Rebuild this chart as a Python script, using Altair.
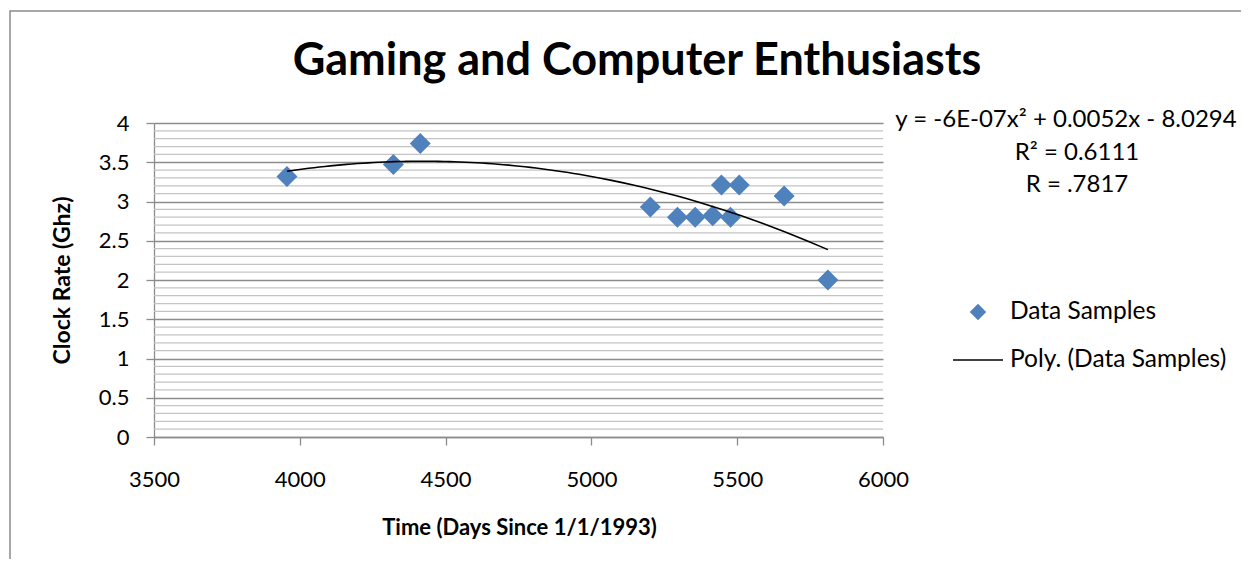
import altair as alt
import pandas as pd

# ---- data ----
days = [3956, 4321, 4413, 5202, 5295, 5356, 5416, 5446, 5477, 5507, 5661, 5811]
clock = [3.32, 3.47, 3.74, 2.93, 2.80, 2.80, 2.82, 3.21, 2.80, 3.21, 3.07, 2.00]

x_ticks = [3500, 4000, 4500, 5000, 5500, 6000]
y_major = [0, 0.5, 1, 1.5, 2, 2.5, 3, 3.5, 4]
y_minor = [round(i / 10, 1) for i in range(1, 40) if i % 5]

title_text = "Gaming and Computer Enthusiasts"
x_title = "Time (Days Since 1/1/1993)"
y_title = "Clock Rate (Ghz)"
eq_lines = ["y = -6E-07x² + 0.0052x - 8.0294", "R² = 0.6111", "R = .7817"]
legend_labels = ["Data Samples", "Poly. (Data Samples)"]

# ---- styling ----
W, H = 729, 314
FONT = "Lato"
GRID_MAJOR = "#8c8c8c"
GRID_MINOR = "#c4c4c4"
BLUE = "#4F81BD"

df = pd.DataFrame({"days": days, "clock": clock})
minor_df = pd.DataFrame({"clock": y_minor})
one = pd.DataFrame({"k": [0]})

xscale = alt.Scale(domain=[3500, 6000], nice=False, zero=False)
yscale = alt.Scale(domain=[0, 4], nice=False)

x_axis = alt.Axis(
    values=x_ticks, format="d", grid=False,
    domainColor=GRID_MAJOR, domainWidth=1.3,
    tickColor=GRID_MAJOR, tickWidth=1.3, tickSize=8,
    labelFont=FONT, labelFontSize=22, labelColor="black", labelPadding=24,
    labelFlush=False, labelOverlap=False,
    title=x_title, titleFont=FONT, titleFontSize=22, titleFontWeight="bold",
    titleColor="black", titleX=365, titleY=90, titleAlign="center",
    titleBaseline="middle",
)
y_axis = alt.Axis(
    values=y_major, format="~g", grid=True,
    gridColor=GRID_MAJOR, gridWidth=1.3,
    domainColor=GRID_MAJOR, domainWidth=1.3,
    tickColor=GRID_MAJOR, tickWidth=1.3, tickSize=8,
    labelFont=FONT, labelFontSize=22, labelColor="black", labelPadding=17,
    labelOverlap=False,
    title=y_title, titleFont=FONT, titleFontSize=23, titleFontWeight="bold",
    titleColor="black", titleX=-92, titleY=157, titleAngle=270,
    titleAlign="center", titleBaseline="middle",
)

X = alt.X("days:Q", scale=xscale, axis=x_axis)
Y = alt.Y("clock:Q", scale=yscale, axis=y_axis)

border = alt.Chart(one).mark_rect(
    fillOpacity=0, stroke="#8a8a8a", strokeWidth=1.5
).encode(x=alt.value(-144), y=alt.value(-112), x2=alt.value(1300), y2=alt.value(700))

minor = alt.Chart(minor_df).mark_rule(color=GRID_MINOR, strokeWidth=1.2).encode(y=Y)

points = alt.Chart(df).mark_point(
    shape="diamond", filled=True, size=441, color=BLUE, opacity=1
).encode(x=X, y=Y)

trend = alt.Chart(df).transform_regression(
    "days", "clock", method="poly", order=2
).mark_line(color="black", strokeWidth=1.6).encode(x=X, y=Y)

title = alt.Chart(one).mark_text(
    font=FONT, fontSize=45, fontWeight="bold", align="center", baseline="alphabetic", color="black"
).encode(x=alt.value(483), y=alt.value(-48), text=alt.value(title_text))

eq_x = [912, 923, 923]
eq_y = [-3, 30, 62]
eq_layers = [
    alt.Chart(one).mark_text(
        font=FONT, fontSize=24, align="center", baseline="middle", color="black"
    ).encode(x=alt.value(ex), y=alt.value(ey), text=alt.value(t))
    for t, ex, ey in zip(eq_lines, eq_x, eq_y)
]

leg_sym = alt.Chart(one).mark_point(
    shape="diamond", filled=True, size=270, color=BLUE, opacity=1
).encode(x=alt.value(824), y=alt.value(189))
leg_line = alt.Chart(one).mark_rule(color="black", strokeWidth=1.6).encode(
    x=alt.value(799), x2=alt.value(849), y=alt.value(237)
)
leg_t1 = alt.Chart(one).mark_text(
    font=FONT, fontSize=24.5, align="left", baseline="middle", color="black"
).encode(x=alt.value(856), y=alt.value(189), text=alt.value(legend_labels[0]))
leg_t2 = alt.Chart(one).mark_text(
    font=FONT, fontSize=24.5, align="left", baseline="middle", color="black"
).encode(x=alt.value(856), y=alt.value(237), text=alt.value(legend_labels[1]))

chart = alt.layer(
    border, minor, points, trend, title, *eq_layers, leg_sym, leg_line, leg_t1, leg_t2
).properties(
    width=W, height=H,
    autosize=alt.AutoSizeParams(type="none"),
    padding={"left": 146, "top": 115, "right": 358, "bottom": 122},
    background="white",
).configure_view(stroke=None)

chart.save("out.html", embed_options={"renderer": "svg", "actions": False})
